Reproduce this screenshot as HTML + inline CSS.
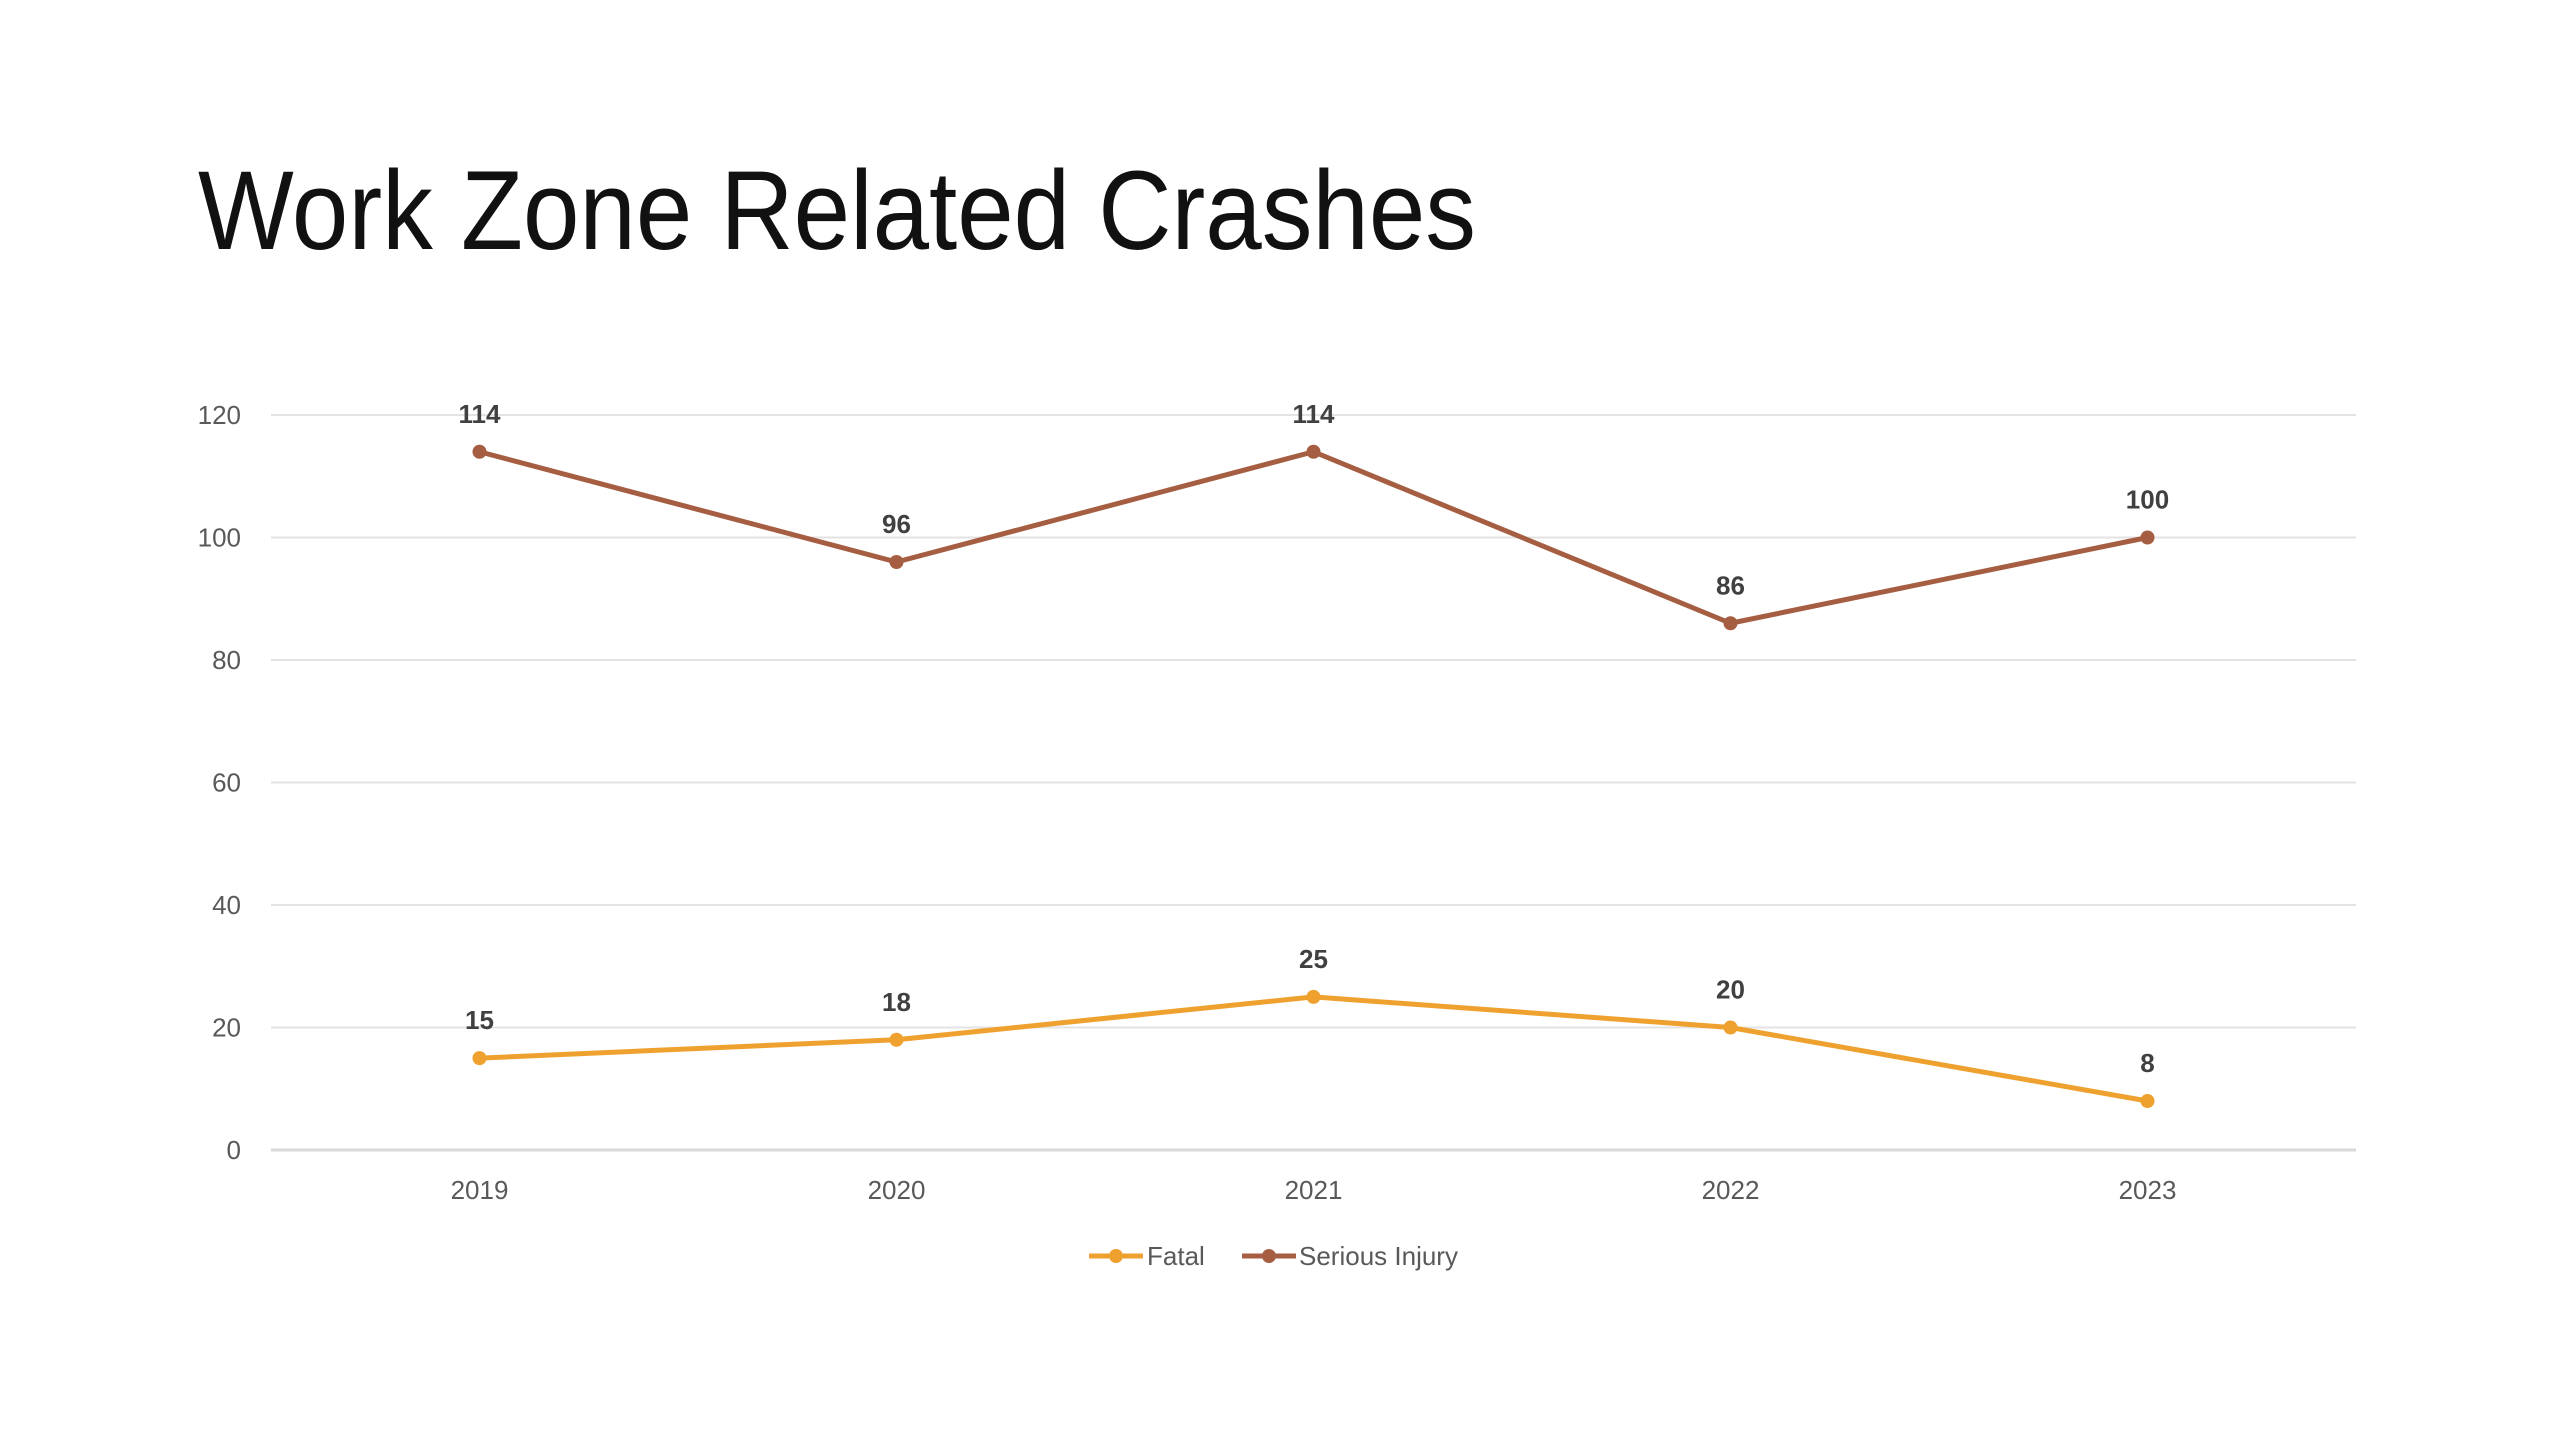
<!DOCTYPE html>
<html><head><meta charset="utf-8"><style>
html,body{margin:0;padding:0;background:#fff;}
svg{display:block;font-family:"Liberation Sans",sans-serif;}
</style></head><body>
<svg id="chart" width="2560" height="1440" viewBox="0 0 2560 1440">
<text x="198" y="249" font-size="112" fill="#111" textLength="1278" lengthAdjust="spacingAndGlyphs">Work Zone Related Crashes</text>
<g id="grid"></g><g id="series"></g>
<g>
<g>
<line x1="1089" y1="1256" x2="1143" y2="1256" stroke="#EFA12F" stroke-width="5"/><circle cx="1116" cy="1256" r="7" fill="#EFA12F"/>
<text x="1147" y="1265" font-size="26" fill="#595959">Fatal</text></g>
<g>
<line x1="1242" y1="1256" x2="1296" y2="1256" stroke="#A65E42" stroke-width="5"/><circle cx="1269" cy="1256" r="7" fill="#A65E42"/>
<text x="1299" y="1265" font-size="26" fill="#595959">Serious Injury</text></g>
</g>
</svg>
<script>
const categories=["2019","2020","2021","2022","2023"];
const fatal=[15,18,25,20,8];
const serious=[114,96,114,86,100];
const yTicks=[0,20,40,60,80,100,120];
const NS="http://www.w3.org/2000/svg";
const L=271,R=2356,Y0=1150,Y120=415;
const x=i=>L+(R-L)/categories.length*(i+0.5);
const y=v=>Y0-(Y0-Y120)*v/120;
function mk(t,a,p){const e=document.createElementNS(NS,t);for(const k in a)e.setAttribute(k,a[k]);p.appendChild(e);return e;}
const grid=document.getElementById('grid'),ser=document.getElementById('series');
yTicks.forEach(v=>{
 const l=mk('line',{x1:L,x2:R,y1:y(v),y2:y(v),stroke:v===0?'#d9d9d9':'#e3e3e3','stroke-width':v===0?3:2},grid);
 
 
 const t=mk('text',{x:241,y:y(v)+9,'font-size':26,fill:'#595959','text-anchor':'end'},grid);t.textContent=v;
 
 
});
categories.forEach((c,i)=>{
 const t=mk('text',{x:x(i),y:1199,'font-size':26,fill:'#595959','text-anchor':'middle'},grid);t.textContent=c;
 
 
});
function draw(vals,color,name){
 const p=mk('polyline',{points:vals.map((v,i)=>x(i)+','+y(v)).join(' '),fill:'none',stroke:color,'stroke-width':5,'stroke-linejoin':'round'},ser);
 
 
 vals.forEach((v,i)=>{
  const c=mk('circle',{cx:x(i),cy:y(v),r:7,fill:color},ser);
  
  
  const t=mk('text',{x:x(i),y:y(v)-29,'font-size':26,'font-weight':'bold',fill:'#404040','text-anchor':'middle'},ser);t.textContent=v;
  
  
 });
}
draw(serious,'#A65E42','serious-injury');
draw(fatal,'#EFA12F','fatal');
</script>
</body></html>
